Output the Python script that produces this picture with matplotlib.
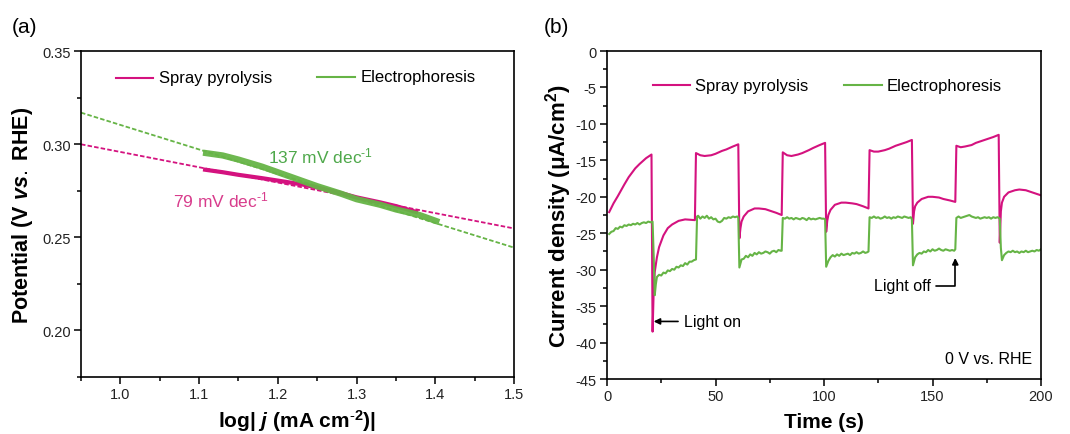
import matplotlib
matplotlib.use('Agg')
import matplotlib.pyplot as plt
from matplotlib.ticker import MultipleLocator

plt.rcParams['font.family'] = ['Liberation Sans', 'DejaVu Sans']
plt.rcParams['mathtext.fontset'] = 'custom'
plt.rcParams['mathtext.rm'] = 'Liberation Sans'
plt.rcParams['mathtext.it'] = 'Liberation Sans:italic:bold'
plt.rcParams['mathtext.bf'] = 'Liberation Sans:bold'
plt.rcParams['axes.unicode_minus'] = False

pink = '#d4127f'
green = '#66b446'

# ---- panel (a): Tafel data ----
fit_x = [0.95, 1.5]
fit_sp = [0.300, 0.2548]
fit_ep = [0.317, 0.2445]

ep_x = [1.105, 1.13, 1.15, 1.18, 1.20, 1.23, 1.25, 1.28, 1.30, 1.33, 1.35, 1.38, 1.405]
ep_y = [0.2955, 0.2940, 0.2918, 0.2880, 0.2850, 0.2805, 0.2775, 0.2735, 0.2705, 0.2675, 0.2650, 0.2620, 0.2582]

sp_x = [1.105, 1.13, 1.15, 1.18, 1.20, 1.23, 1.25, 1.28, 1.30, 1.33, 1.35, 1.378]
sp_y = [0.2865, 0.2850, 0.2836, 0.2818, 0.2805, 0.2785, 0.2768, 0.2738, 0.2715, 0.2688, 0.2668, 0.2634]

# ---- panel (b): chopped light transient ----
t_sp = [1, 3, 5, 8, 10, 13, 15, 18, 20.5,
        21, 21.5, 22, 23, 24, 26, 28, 30, 33, 36, 40.5,
        41, 43, 45, 48, 50, 53, 55, 58, 60.5,
        61, 61.5, 62, 63, 65, 68, 70, 73, 75, 78, 80.5,
        81, 83, 85, 88, 90, 93, 95, 98, 100.5,
        101, 101.5, 102, 103, 105, 108, 110, 113, 115, 118, 120.5,
        121, 123, 125, 128, 130, 133, 135, 138, 140.5,
        141, 141.5, 142, 143, 145, 148, 150, 153, 155, 158, 160.5,
        161, 163, 165, 168, 170, 173, 175, 178, 180.5,
        181, 181.5, 182, 183, 185, 188, 190, 193, 195, 198, 200]
j_sp = [-22.1, -20.9, -19.9, -18.3, -17.3, -16.1, -15.5, -14.7, -14.2,
        -38.5, -33.0, -30.3, -28.3, -26.9, -25.3, -24.3, -23.8, -23.3, -23.1, -23.2,
        -14.0, -14.3, -14.4, -14.3, -14.1, -13.7, -13.5, -13.1, -12.8,
        -25.7, -24.3, -23.4, -22.7, -22.0, -21.6, -21.6, -21.7, -21.9, -22.2, -22.5,
        -13.9, -14.3, -14.4, -14.2, -14.0, -13.6, -13.3, -12.9, -12.6,
        -24.8, -23.3, -22.5, -21.8, -21.1, -20.8, -20.8, -20.9, -21.0, -21.3, -21.6,
        -13.6, -13.8, -13.8, -13.6, -13.4, -13.0, -12.8, -12.5, -12.2,
        -23.7, -22.0, -21.3, -20.8, -20.3, -20.0, -20.0, -20.1, -20.3, -20.5, -20.7,
        -13.0, -13.2, -13.1, -12.9, -12.6, -12.3, -12.1, -11.8, -11.5,
        -26.3, -22.0, -20.8, -20.0, -19.4, -19.1, -19.0, -19.1, -19.3, -19.6, -19.8]

t_ep = [1, 2, 3, 4, 5, 6, 7, 8, 9, 10, 11, 12, 13, 14, 15, 16, 17, 18, 19, 20, 21,
        21.5, 22, 22.5, 23, 24, 25, 26, 27, 28, 29, 30, 31, 32, 33, 34, 35, 36, 37, 38, 39, 40, 41,
        41.5, 42, 43, 44, 45, 46, 47, 48, 49, 50, 51, 52, 53, 54, 55, 56, 57, 58, 59, 60, 60.5,
        61, 62, 63, 64, 65, 66, 67, 68, 69, 70, 71, 72, 73, 74, 75, 76, 77, 78, 79, 80, 80.5,
        81, 82, 83, 84, 85, 86, 87, 88, 89, 90, 91, 92, 93, 94, 95, 96, 97, 98, 99, 100, 100.5,
        101, 102, 103, 104, 105, 106, 107, 108, 109, 110, 111, 112, 113, 114, 115, 116, 117, 118, 119, 120, 120.5,
        121, 122, 123, 124, 125, 126, 127, 128, 129, 130, 131, 132, 133, 134, 135, 136, 137, 138, 139, 140, 140.5,
        141, 142, 143, 144, 145, 146, 147, 148, 149, 150, 151, 152, 153, 154, 155, 156, 157, 158, 159, 160, 160.5,
        161, 162, 163, 164, 165, 166, 167, 168, 169, 170, 171, 172, 173, 174, 175, 176, 177, 178, 179, 180, 181,
        181.5, 182, 183, 184, 185, 186, 187, 188, 189, 190, 191, 192, 193, 194, 195, 196, 197, 198, 199, 200]
j_ep = [-25.1, -24.8, -24.7, -24.3, -24.4, -24.1, -24.2, -23.9, -24.0, -23.8, -23.9, -23.7, -23.8, -23.6, -23.8, -23.6, -23.5, -23.6, -23.4, -23.5, -23.4,
        -28.0, -33.5, -32.0, -31.0, -30.7, -30.8, -30.4, -30.5, -30.1, -30.2, -29.9, -30.0, -29.6, -29.7, -29.4, -29.5, -29.1, -29.3, -28.9, -28.9, -28.7, -28.6,
        -22.7, -22.6, -23.0, -22.7, -22.9, -22.6, -23.0, -22.8, -23.1, -23.0, -23.4, -23.5, -23.3, -22.9, -23.0, -22.8, -22.9, -22.7, -22.8, -22.7, -22.9,
        -29.7, -28.6, -28.5, -28.1, -28.3, -27.9, -28.1, -27.7, -27.9, -27.6, -27.8, -27.7, -27.5, -27.6, -27.8, -27.5, -27.4, -27.6, -27.3, -27.4, -27.4,
        -22.9, -23.0, -22.8, -23.0, -22.9, -23.1, -22.9, -23.0, -23.1, -22.9, -23.0, -23.2, -22.9, -23.1, -23.0, -23.1, -23.0, -22.9, -23.0, -23.0, -23.1,
        -29.6, -28.8, -28.3, -28.0, -28.2, -27.9, -28.1, -27.8, -28.0, -27.9, -27.8, -28.0, -27.7, -27.8, -27.6, -27.8, -27.7, -27.5, -27.7, -27.6, -27.5,
        -22.8, -22.9, -22.7, -22.9, -22.8, -23.0, -22.9, -22.7, -22.9, -22.8, -23.0, -22.8, -22.9, -22.7, -22.8, -22.9, -22.7, -22.8, -22.9, -22.8, -23.1,
        -29.4, -28.3, -27.9, -27.7, -27.8, -27.5, -27.6, -27.3, -27.5, -27.2, -27.4, -27.3, -27.1, -27.3, -27.4, -27.2, -27.3, -27.4, -27.3, -27.4, -27.2,
        -22.9, -22.7, -22.9, -22.8, -22.7, -22.6, -22.5, -22.7, -22.8, -22.9, -22.8, -23.0, -22.9, -22.8, -22.9, -22.8, -23.0, -22.8, -22.9, -22.8, -23.0,
        -27.0, -28.7, -28.0, -27.7, -27.5, -27.6, -27.4, -27.6, -27.5, -27.7, -27.5, -27.6, -27.4, -27.6, -27.5, -27.4, -27.5, -27.3, -27.4, -27.2]

fig = plt.figure(figsize=(10.7, 4.35), dpi=100)
ax1 = fig.add_axes([0.0757, 0.131, 0.4047, 0.749])
ax2 = fig.add_axes([0.5673, 0.1264, 0.4056, 0.754])

def style(ax):
    for s in ax.spines.values():
        s.set_linewidth(1.2)
    ax.tick_params(which='both', direction='out', top=False, right=False, labelsize=10.5,
                   width=1.1, labelcolor='#222222', pad=2.5)
    ax.tick_params(which='major', length=5)
    ax.tick_params(which='minor', length=3)

# (a)
ax1.plot(fit_x, fit_ep, color=green, lw=1.3, ls=(0, (2.5, 1.2)))
ax1.plot(fit_x, fit_sp, color=pink, lw=1.3, ls=(0, (2.5, 1.2)))
ax1.plot(sp_x, sp_y, color=pink, lw=3, solid_capstyle='butt')
ax1.plot(ep_x, ep_y, color=green, lw=4.5, solid_capstyle='butt', alpha=0.95)
ax1.set_xlim(0.95, 1.5)
ax1.set_ylim(0.175, 0.35)
ax1.xaxis.set_minor_locator(MultipleLocator(0.05))
ax1.yaxis.set_minor_locator(MultipleLocator(0.025))
ax1.set_yticks([0.20, 0.25, 0.30, 0.35])
ax1.set_yticklabels(['0.20', '0.25', '0.30', '0.35'])
ax1.set_xticks([1.0, 1.1, 1.2, 1.3, 1.4, 1.5])
ax1.set_xticklabels(['1.0', '1.1', '1.2', '1.3', '1.4', '1.5'])
style(ax1)
ax1.set_xlabel(r'log| $\mathit{j}$ (mA cm$^{\mathbf{\text{-}2}}$)|', fontsize=15, fontweight='bold', labelpad=4)
ax1.set_ylabel(r'Potential (V $\mathit{vs.}$ RHE)', fontsize=15.5, fontweight='bold', labelpad=5)
ax1.text(1.188, 0.294, r'137 mV dec$^{\text{-}1}$', color='#4ea84a', fontsize=12.5, va='center')
ax1.text(1.067, 0.2705, r'79 mV dec$^{\text{-}1}$', color='#d83c8c', fontsize=12.5, va='center')
ax1.plot([0.994, 1.042], [0.3357, 0.3357], color=pink, lw=1.5)
ax1.text(1.049, 0.3357, 'Spray pyrolysis', fontsize=12, va='center')
ax1.plot([1.25, 1.298], [0.3362, 0.3362], color=green, lw=1.5)
ax1.text(1.305, 0.3362, 'Electrophoresis', fontsize=12, va='center')
fig.text(0.011, 0.925, '(a)', fontsize=15)

# (b)
ax2.plot(t_sp, j_sp, color=pink, lw=1.5)
ax2.plot(t_ep, j_ep, color=green, lw=1.5)
ax2.set_xlim(0, 200)
ax2.set_ylim(-45, 0)
ax2.xaxis.set_major_locator(MultipleLocator(50))
ax2.xaxis.set_minor_locator(MultipleLocator(25))
ax2.yaxis.set_major_locator(MultipleLocator(5))
ax2.yaxis.set_minor_locator(MultipleLocator(2.5))
style(ax2)
ax2.set_xlabel('Time (s)', fontsize=15, fontweight='bold', labelpad=6)
ax2.set_ylabel(r'Current density ($\mathbf{\mu}$A/cm$^{\mathbf{2}}$)', fontsize=16, fontweight='bold', labelpad=1)
ax2.plot([21.2, 38.1], [-4.7, -4.7], color=pink, lw=1.5)
ax2.text(40.7, -4.7, 'Spray pyrolysis', fontsize=12, va='center')
ax2.plot([109, 126.7], [-4.7, -4.7], color=green, lw=1.5)
ax2.text(128.7, -4.7, 'Electrophoresis', fontsize=12, va='center')
ax2.annotate('Light on', xy=(21.5, -37.1), xytext=(35.3, -37.1), va='center', fontsize=11.5,
             arrowprops=dict(arrowstyle='-|>', color='black', lw=1.2, mutation_scale=9, shrinkA=2, shrinkB=0))
ax2.annotate('Light off', xy=(160.5, -28.4), xytext=(149.2, -32.2), ha='right', va='center', fontsize=11.5,
             arrowprops=dict(arrowstyle='-|>', color='black', lw=1.2, mutation_scale=9, shrinkA=2, shrinkB=0,
                             connectionstyle='angle,angleA=0,angleB=90,rad=0'))
ax2.text(196, -42.2, '0 V vs. RHE', ha='right', va='center', fontsize=11.5)
fig.text(0.508, 0.925, '(b)', fontsize=15)

fig.savefig('out.png', dpi=100)
